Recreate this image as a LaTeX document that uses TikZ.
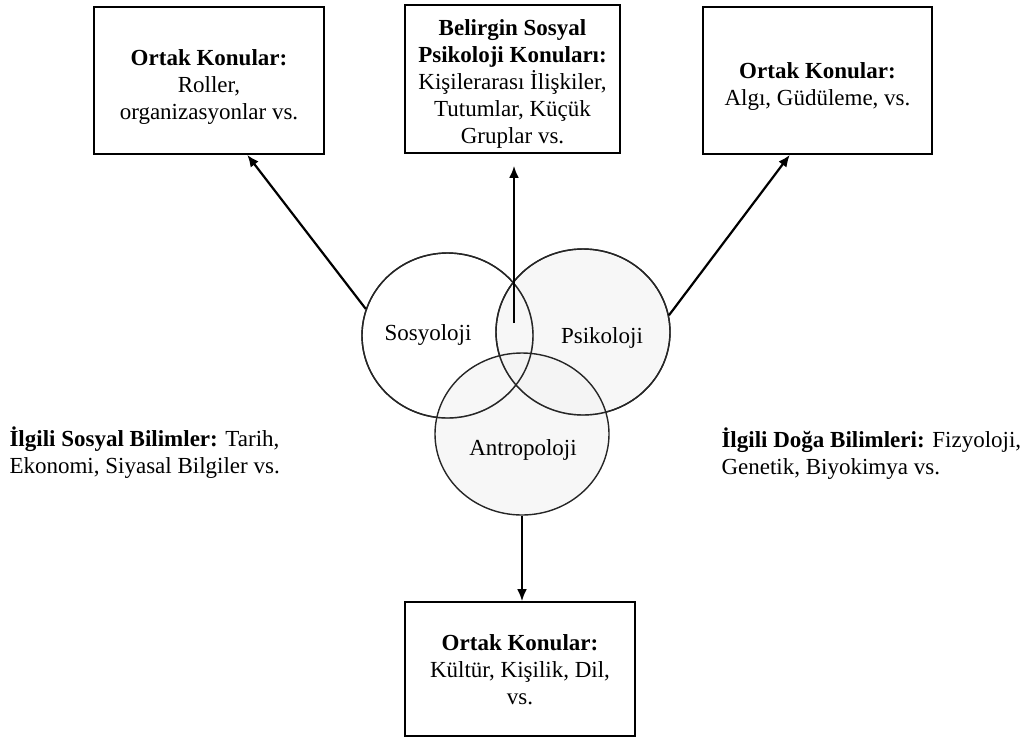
\documentclass[tikz,border=0pt]{standalone}
\usepackage{fontspec}
\setmainfont{Liberation Serif}
\usetikzlibrary{shapes.geometric,arrows.meta,calc}
\begin{document}
\begin{tikzpicture}[x=1pt,y=-1pt,
  every node/.style={font=\fontsize{23}{27}\selectfont},
  topicbox/.style={draw=black,line width=1.7pt,inner sep=0pt},
  boxtext/.style={align=center,inner sep=0pt},
  field/.style={ellipse,draw=black!85,line width=1.4pt,inner sep=0pt},
  shaded/.style={fill=black!5,fill opacity=0.6},
  link/.style={line width=2.2pt,-{Latex[length=12pt,width=10pt]}},
  sidetext/.style={anchor=west,align=left}]
\useasboundingbox (0,0) rectangle (1028,740);

% discipline circles
\node[field,fill=white,minimum width=171pt,minimum height=165pt] (soc) at (447.5,335.5) {};
\node[field,shaded,minimum width=174pt,minimum height=166pt] (psi) at (583,332) {};
\node[field,shaded,minimum width=174pt,minimum height=162pt] (ant) at (522,434) {};
\draw[black!85,line width=1.4pt] (soc.center) ellipse [x radius=85.5pt,y radius=82.5pt];
\draw[black!85,line width=1.4pt] (psi.center) ellipse [x radius=87pt,y radius=83pt];
\node (socl) at (428,335) {Sosyoloji};
\node (psil) at (602,338) {Psikoloji};
\node (antl) at (523,450) {Antropoloji};

% topic boxes
\node[topicbox,minimum width=230pt,minimum height=147pt] (tl) at (209,80.5) {};
\node[topicbox,minimum width=215pt,minimum height=148pt] (tm) at (512.5,79) {};
\node[topicbox,minimum width=229pt,minimum height=147pt] (tr) at (817.5,80.5) {};
\node[topicbox,minimum width=230pt,minimum height=134pt] (bm) at (520,669) {};

\node[boxtext] (tlt) at ([yshift=-6pt]tl.center)
  {\textbf{Ortak Konular:}\\Roller,\\organizasyonlar vs.};
\node[boxtext] (tmt) at ([yshift=-5pt]tm.center)
  {\textbf{Belirgin Sosyal}\\\textbf{Psikoloji Konuları:}\\Kişilerarası İlişkiler,\\Tutumlar, Küçük\\Gruplar vs.};
\node[boxtext] (trt) at ([yshift=-6pt]tr.center)
  {\textbf{Ortak Konular:}\\Algı, Güdüleme, vs.};
\node[boxtext] (bmt) at ([yshift=-1pt]bm.center)
  {\textbf{Ortak Konular:}\\Kültür, Kişilik, Dil,\\vs.};

% related sciences
\node[sidetext] (social) at (6,453)
  {\textbf{İlgili Sosyal Bilimler:} Tarih,\\Ekonomi, Siyasal Bilgiler vs.};
\node[sidetext] (natural) at (718,454)
  {\textbf{İlgili Doğa Bilimleri:} Fizyoloji,\\Genetik, Biyokimya vs.};

% connectors
\coordinate (core) at (514,323);
\draw[link] (soc.162) -- ($(tl.south west)!0.665!(tl.south east)$);
\draw[link,shorten >=12pt] (core) -- (core |- tm.south);
\draw[link] (psi.11) -- ($(tr.south west)!0.38!(tr.south east)$);
\draw[link] (ant.south) -- (ant.south |- bm.north);
\end{tikzpicture}
\end{document}
